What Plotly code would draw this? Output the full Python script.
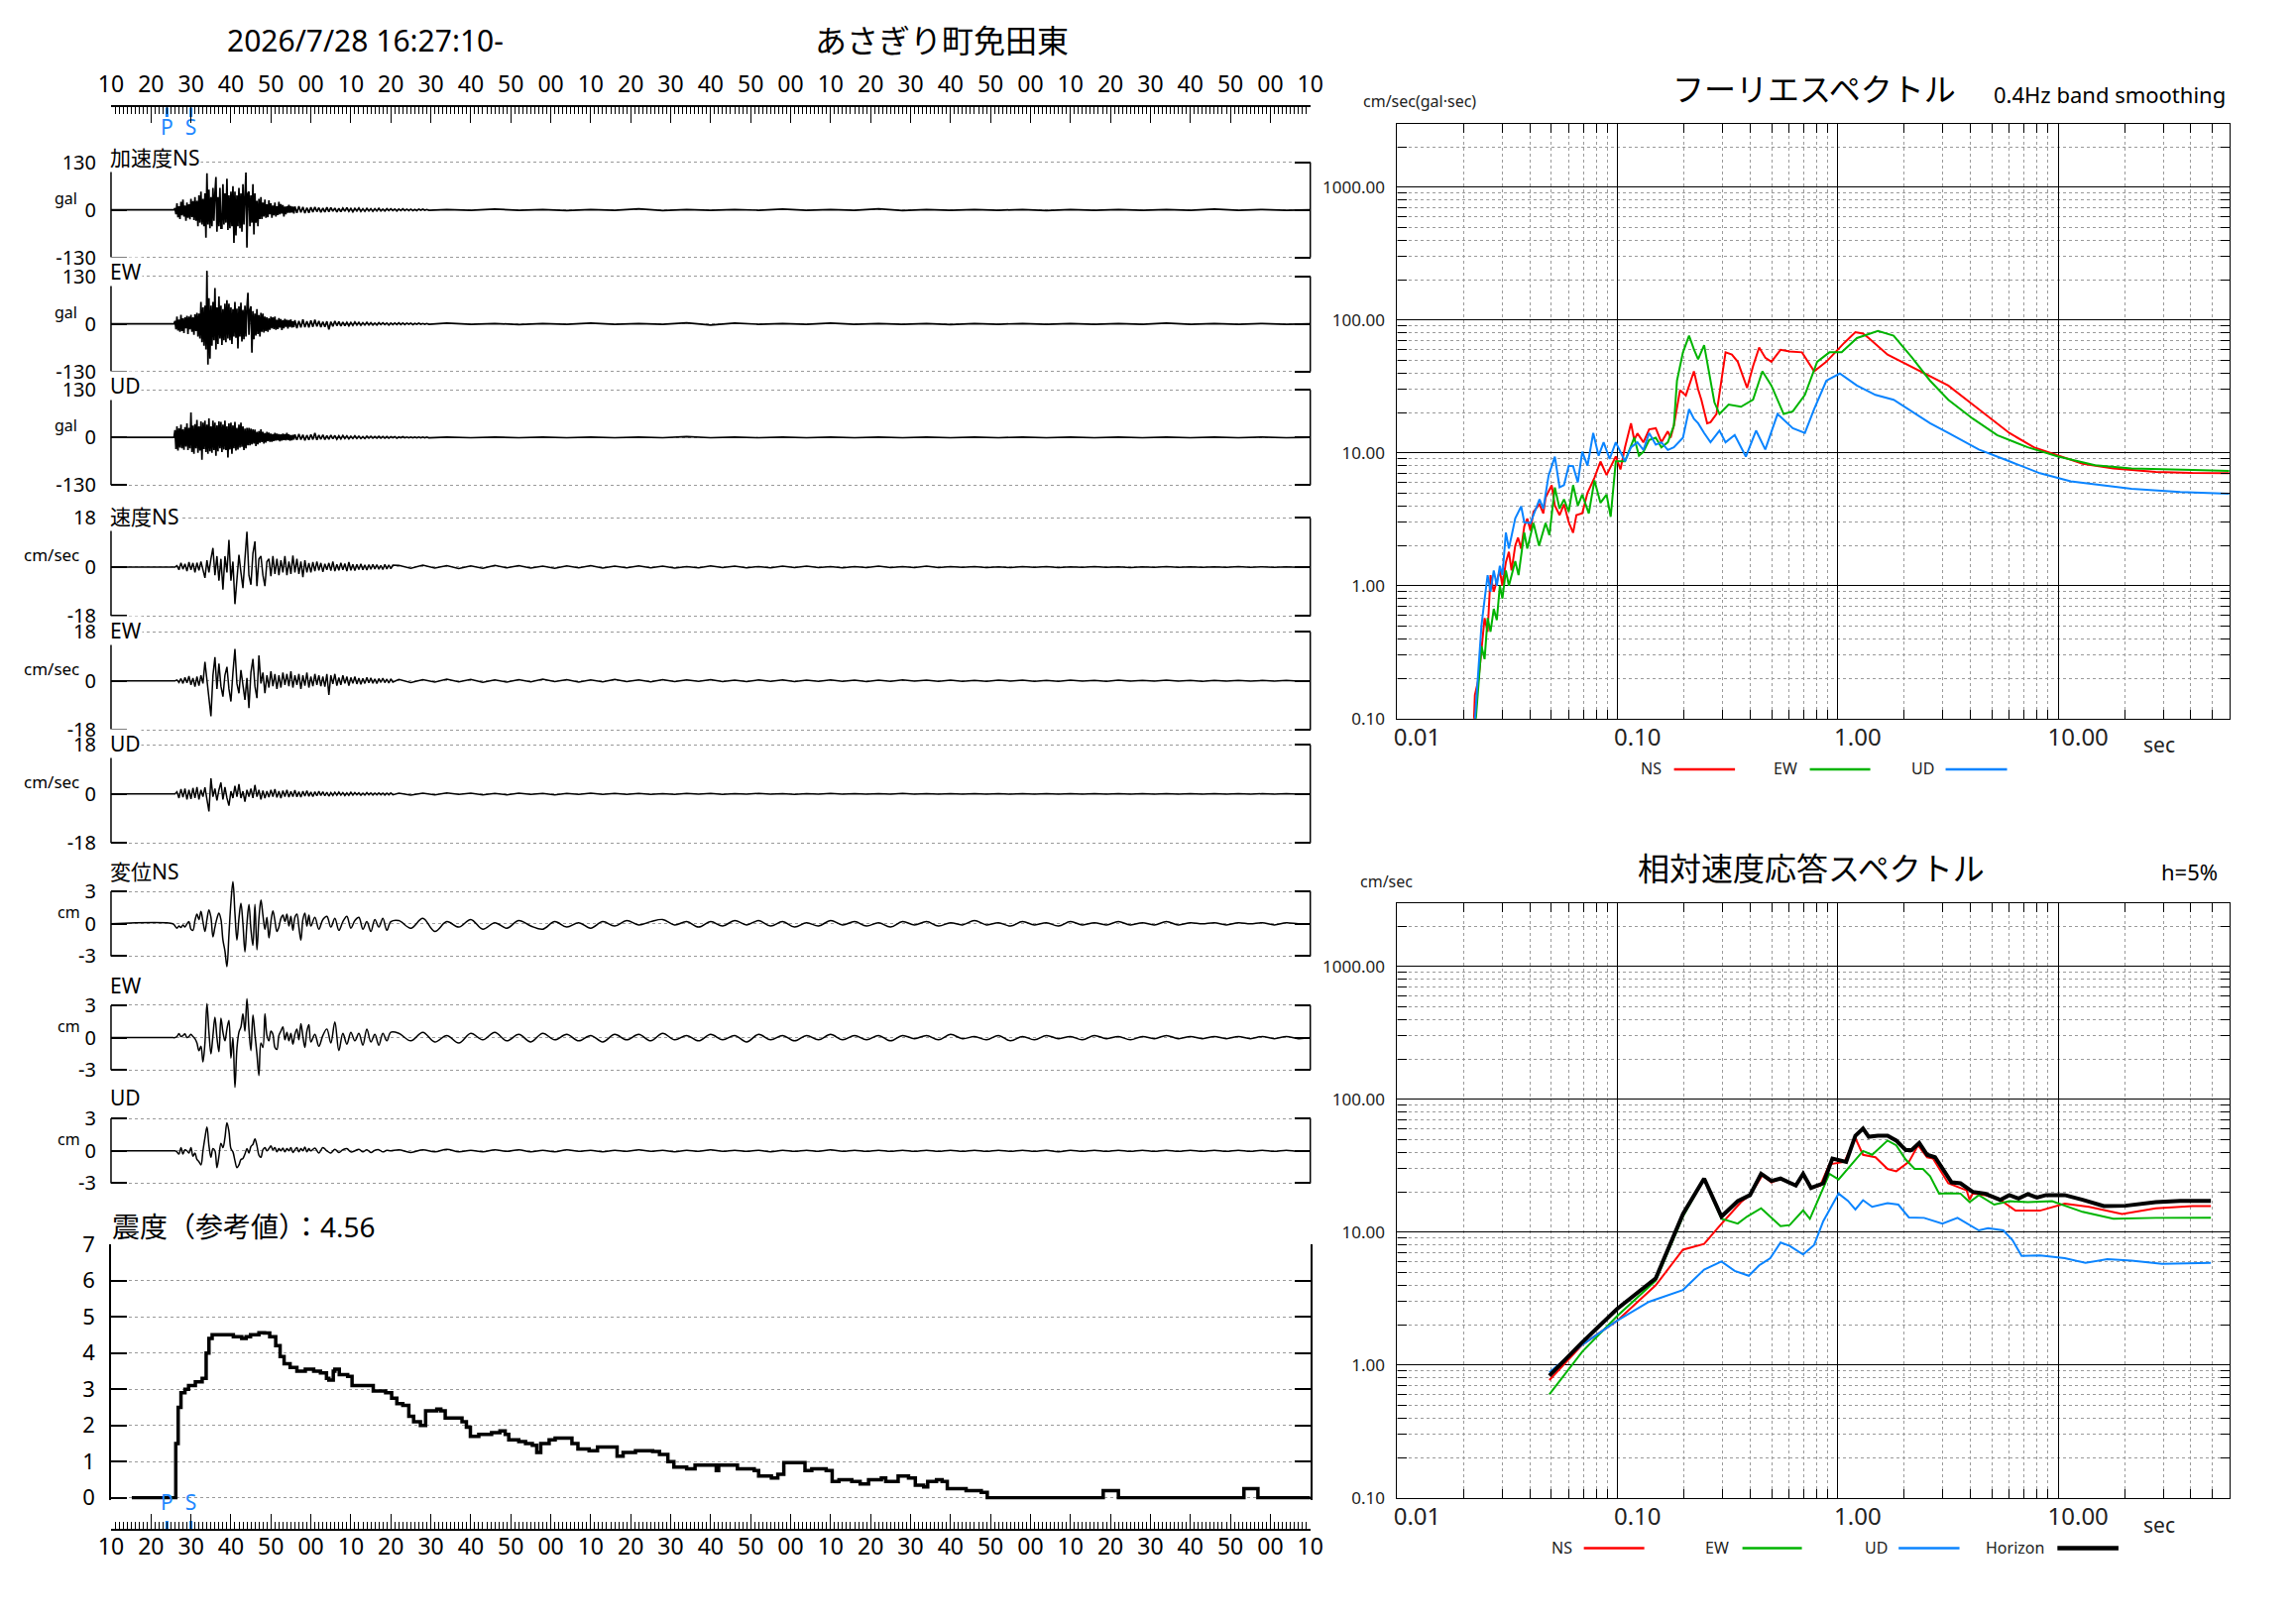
import numpy as np
import plotly.graph_objects as go

#======================================================================
# Data =================================================================
#======================================================================

TITLE_TIME = "2026/7/28 16:27:10-"
STATION = "あさぎり町免田東"

TIME_TICKS = list(range(0, 301, 10))
TIME_LABELS = ["10", "20", "30", "40", "50", "00", "10", "20", "30", "40", "50", "00",
               "10", "20", "30", "40", "50", "00", "10", "20", "30", "40", "50", "00",
               "10", "20", "30", "40", "50", "00", "10"]
PHASE_TIMES = [14.0, 20.0]
PHASE_LABELS = ["P", "S"]

# acceleration (gal): 0.25 s samples from 16 s, 0.5 s samples from 46 s, 6 s samples from 84 s
ACC_NS_A = [5, -12, 18, -20, 10, -25, 22, -15, 28, -18, 12, -30, 20, -22, 15, -26, 30, -20, 24, -28,
            35, -30, 25, -45, 40, -35, 50, -40, 30, -45, 45, -76, 100, -40,
            55, -50, 35, -45, 60, -30, 45, 90, -60, 35, -45, 60, -50,
            -50, 70, -40, 45, -35, 85, -55, 40, -50, 50, -45, 65, -90, 50, -70, 40, -45, 60, -50, 45,
            -60, 70, -40, 35, 102, -103, 45,
            50, -45, 40, -35, 70, -67, 45, -35, 25, -45, 30, -25, 35,
            -25, 20, -18, 28, -22, 15, -20, 26, -12, 18, -22, 12, -15, 20, -18, 10, -14, 22, -12, 16,
            -10, 13, -18, 9, -12, 10, -8, 14, -8, 10, -7, 9, -10]
ACC_NS_B = [9, -8, 10, -7, 8, -9, 6, -8, 7, -6, 8, -5, 6, -7, 5, -6, 7, -5, 6, -4, 5, -6, 4, -5,
            5, -4, 6, -4, 4, -5, 4, -3, 5, -4, 3, -4, 4, -3, 3, -4, 3, -3, 4, -3, 2, -3, 3, -2,
            3, -2, 2, -3, 2, -2, 3, -2, 2, -2, 2, -2, 1, -2, 2, -1, 2, -1, 1, -1]
ACC_NS_C = [1, -1, 2, -1, 1, -2, 1, -1, 3, -2, 1, -1, 1, -1, 2, -1, 1, -1, 3, -2, 1, -1, 1, -1,
            1, -2, 1, -1, 1, -1, 1, -1, 2, -1, 1, -1, 0]

ACC_EW_A = [8, -15, 20, -18, 12, -22, 25, -20, 15, -25, 18, -12, 22, -28, 20, -15, 25, -22, 18, -30,
            26, -20, 30, -35, 28, -40,
            60, -50, 45, -60, 50, -70, 145, -111,
            70, -95, 50, -60, 60, -45, 98, -70, 45, -55, 75, -40, 50,
            -58, 40, -45, 55, -50, 65, -40, 55, -45, 45, -55, 40, -35, 60, -38, 42, -67, 48, -35, 58,
            -48, 38, -42, 50, -35, 45, 85, -30, 38, 48, -79, 35, -42, 28, -32, 40, -28, 24, -35, 30,
            -22, 28, -24, 20,
            -20, 18, -22, 15, -16, 20, -12, 18, -14, 20, -16, 11, -14, 16, -10, 13, -17, 10, -12, 14,
            -8, 11, -13, 10, -8, 12, -10, 7, -9]
ACC_EW_B = [10, -12, 8, -10, 12, -9, 7, -10, 9, -8, 11, -7, 8, -9, 6, -8, 7, -15, 6, -7, 8, -5, 6, -6,
            5, -5, 4, -5, 4, -4, 5, -3, 4, -4, 3, -3, 4, -3, 3, -3, 2, -3, 3, -2, 3, -2, 2, -3,
            2, -2, 2, -2, 3, -2, 2, -2, 2, -1, 2, -2, 1, -1, 2, -1, 1, -1, 1, -1]
ACC_EW_C = [2, -1, 1, -2, 1, -1, 2, -1, 1, -1, 3, -3, 2, -1, 1, -1, 2, -1, 1, -1, 1, -2, 1, -1,
            1, -1, 1, -1, 1, -1, 2, -1, 1, -1, 1, -1, 0]

ACC_UD_A = [20, -32, 30, -36, 25, -28, 35, -30, 22, -34, 28, -25, 38, -35, 26, -30,
            68, -40, 32, -45, 36, -30, 48, -42, 30, -36, 44, -61, 40, -32, 46, -40,
            35, -45, 52, -38, 30, -42, 46, -35, 40, -50, 33, -38, 44, -30, 42, -40, 35, -33, 46, -35,
            30, -55, 38, -33, 40, -45, 33, -30, 42, -36, 26, -33, 35, -28, 40, -26, 30, -35, 24, -30,
            26, -22,
            26, -22, 24, -19, 22, -17, 21, -24, 15, -19, 17, -15, 22, -13, 15, -17, 12, -14, 15, -10,
            13, -12,
            10, -12, 9, -10, 12, -9, 10, -8, 9, -11, 8, -9, 10, -7, 9, -8, 12, -7, 8, -9, 6, -8, 7, -6]
ACC_UD_B = [8, -7, 9, -6, 7, -8, 6, -7, 8, -6, 12, -7, 6, -5, 7, -6, 5, -5, 6, -4, 5, -5, 4, -4,
            5, -3, 4, -4, 3, -3, 4, -3, 3, -3, 2, -3, 3, -2, 3, -2, 2, -2, 3, -2, 2, -2, 2, -2,
            2, -1, 2, -2, 1, -1, 2, -1, 1, -1, 1, -1, 1, -1, 1, -1, 1, -1, 1, -1]
ACC_UD_C = [1, -1, 1, -1, 1, -1, 1, -1, 1, -1, 2, -1, 1, -1, 1, -1, 1, -1, 1, -1, 1, -1, 1, -1,
            1, -1, 1, -1, 1, -1, 1, -1, 1, -1, 1, -1, 0]

# velocity (cm/sec): 0.5 s samples from 16.5 s, 3 s samples from 72 s
VEL_NS_A = [0.5, -1.0, 1.5, -0.8, 1.2, -1.5, 1.8, -1.0, 1.5, -2.0, 1.6, -1.2, 2.0,
            -1.5, -4.0, 2.5, -2.0, 3.0, 7.0, -3.0, 4.0, -5.0, 3.0, -8.3, 4.0, -2.0, 10.0, -5.0, 2.0,
            -13.6, -3.0, 4.5, -2.0, -7.7, 3.0, 13.0, -3.0, -6.5, 5.0, 9.4, -7.0, 3.0, 4.0, -3.0,
            -7.0, 2.0,
            3.0, -3.4, 4.0, -2.5, 3.0, -3.0, 2.5, -2.0, 4.0, -3.0, 2.0, -2.5, 4.2, -2.0, 3.0, -2.5,
            2.0, -3.7, 2.5, -2.0, 1.5, -2.0, 1.8,
            -1.5, 2.0, -1.2, 1.5, -1.8, 1.2, -1.0, 1.5, -1.3, 2.0, -1.5, 1.0, -1.2, 1.5, -1.0, 1.3,
            -1.5, 1.8, -1.2, 1.0, -1.3, 1.0, -0.9, 1.2, -1.0, 0.8, -1.1, 0.9, -0.8, 1.0, -0.7, 0.9,
            -0.8, 0.6, -0.9, 1.0, -0.7, 0.8, -0.6, 0.7]
VEL_NS_C = [0.6, -0.5, 0.7, -0.4, 0.5, -0.6, 0.4, -0.5, 0.6, -0.3, 0.5, -0.4, 0.3, -0.5, 0.4, -0.3,
            0.5, -0.4, 0.3, -0.3, 0.4, -0.3, 0.3, -0.4, 0.2, -0.3, 0.4, -0.2, 0.3, -0.3, 0.2, -0.3,
            0.3, -0.2, 0.3, -0.2, 0.2, -0.3, 0.2, -0.2, 0.3, -0.2, 0.2, -0.2, 0.3, -0.2, 0.2, -0.1,
            0.2, -0.2, 0.1, -0.2, 0.2, -0.1, 0.2, -0.2, 0.1, -0.1, 0.2, -0.1, 0.1, -0.2, 0.1, -0.1,
            0.2, -0.1, 0.1, -0.1, 0.1, -0.1, 0.2, -0.1, 0.1, -0.1, 0.1, -0.1, 0.0]

VEL_EW_A = [0.3, -0.6, 0.8, -1.0, 1.2, -0.8, 1.7, -1.5, 1.0, -2.2, 1.5, -1.8, 2.0,
            -1.0, 6.9, 0.5, -5.8, -13.0, 2.0, 8.7, -3.0, 6.3, -2.0, -5.8, 2.0, 5.1, -3.0, -7.6, 3.0,
            11.7, -1.0, -4.6, 3.9, -2.0, -7.0, 1.0, -10.0, 3.0, 8.0, -2.0, -6.4, 9.3, -1.0, 3.0,
            -4.6, 2.0,
            -2.5, 3.5, -2.0, 2.5, -3.0, 2.0, -2.5, 3.0, -1.5, 2.5, -2.0, 3.5, -2.5, 2.0, -1.5, 2.5,
            -3.0, 2.0, -1.8, 3.0, -2.5, 1.5, -2.0,
            2.5, -1.5, 2.0, -2.0, 1.5, -2.2, 2.5, -5.2, 2.0, -1.2, 2.5, -1.8, 1.2, -1.5, 2.0, -1.0,
            1.5, -1.8, 1.2, -1.0, 1.5, -1.2, 1.0, -1.3, 0.9, -1.0, 1.2, -0.8, 1.0, -0.9, 0.7, -1.0,
            0.8, -0.6, 0.9, -0.7, 0.6, -0.8, 0.7, -0.5]
VEL_EW_C = [0.5, -0.7, 0.4, -0.5, 0.6, -0.4, 0.5, -0.6, 0.3, -0.5, 0.4, -0.4, 0.6, -0.3, 0.4, -0.5,
            0.3, -0.4, 0.5, -0.3, 0.3, -0.4, 0.4, -0.3, 0.3, -0.2, 0.4, -0.3, 0.2, -0.3, 0.3, -0.2,
            0.3, -0.3, 0.2, -0.2, 0.3, -0.2, 0.2, -0.3, 0.2, -0.2, 0.3, -0.1, 0.2, -0.2, 0.2, -0.2,
            0.1, -0.2, 0.2, -0.1, 0.2, -0.2, 0.1, -0.2, 0.2, -0.1, 0.1, -0.2, 0.2, -0.1, 0.1, -0.1,
            0.2, -0.1, 0.1, -0.2, 0.1, -0.1, 0.1, -0.1, 0.1, -0.1, 0.1, -0.1, 0.0]

VEL_UD_A = [0.8, -1.5, 1.8, -1.2, 2.0, -2.0, 1.5, -1.8, 2.2, -1.5, 2.5, -2.0, 1.5,
            -1.0, 2.4, -1.5, -6.4, 5.7, -1.0, 2.0, -2.4, 1.5, 4.2, -2.0, 2.5, -1.5, -4.3, 1.0, -1.5,
            3.0, -1.0, 3.6, -1.5, 1.0, -2.8, 1.5, -1.0, 2.0, -1.5, 3.3, -1.0, 1.5, -2.0, 1.2, -1.5,
            1.0,
            -1.2, 1.5, -1.0, 1.8, -1.3, 1.0, -1.5, 1.2, -1.0, 1.5, -1.2, 0.9, -1.0, 1.4, -1.1, 0.8,
            -1.2, 1.0, -0.8, 1.2, -0.9, 0.7, -1.0,
            0.8, -0.7, 1.0, -0.6, 0.8, -0.7, 0.6, -0.8, 0.5, -0.6, 0.6, -0.5, 0.7, -0.4, 0.5, -0.6,
            0.4, -0.5, 0.6, -0.4, 0.5, -0.3, 0.4, -0.5, 0.3, -0.4, 0.5, -0.3, 0.4, -0.4, 0.3, -0.3,
            0.4, -0.3, 0.3, -0.4, 0.3, -0.3, 0.4, -0.3]
VEL_UD_C = [0.3, -0.4, 0.3, -0.3, 0.4, -0.2, 0.3, -0.3, 0.2, -0.3, 0.3, -0.2, 0.2, -0.3, 0.2, -0.2,
            0.3, -0.2, 0.2, -0.2, 0.2, -0.2, 0.1, -0.2, 0.2, -0.1, 0.2, -0.2, 0.1, -0.1, 0.2, -0.1,
            0.1, -0.2, 0.1, -0.1, 0.2, -0.1, 0.1, -0.1, 0.1, -0.1, 0.2, -0.1, 0.1, -0.1, 0.1, -0.1,
            0.1, -0.1, 0.1, -0.1, 0.1, -0.1, 0.1, -0.1, 0.1, -0.1, 0.1, -0.1, 0.1, -0.1, 0.1, -0.1,
            0.1, -0.1, 0.1, -0.1, 0.1, -0.1, 0.1, -0.1, 0.1, -0.1, 0.1, -0.1, 0.0]

# displacement (cm): 0.5 s samples from 16 s, 1 s samples from 51 s, 3 s samples from 72 s
DIS_NS_A = [-0.2, -0.4, -0.2, -0.35, -0.1, -0.3, 0.0, 0.2, -0.5, -0.6, 0.3, 0.9,
            0.4, 1.15, 0.2, -0.7, 0.4, 1.3, 0.6, -1.2, -0.3, 0.5, 1.0, 0.4,
            -1.5, -2.5, -3.96, -1.0, 2.0, 3.9, 1.0, -1.5, 0.5, 1.9, 0.0, -2.6,
            0.0, 1.8, -0.5, -2.0, 1.8, -2.4, 0.5, 2.2, 0.8, -0.5, 0.6, -1.3,
            0.2, 1.2, 0.3, -0.7, -0.3, 0.5, 0.8, 0.2, 0.9, -0.2, 0.7, -0.6,
            0.6, 0.9, -0.3, -1.5, 0.4, 1.0, -0.2, 0.8, -0.2]
DIS_NS_B = [0.6, -0.5, 0.4, 0.7, -0.3, 0.5, -0.6, 0.2, 0.7, -0.4, 0.3, 0.6, -0.5, 0.2, -0.7, 0.4,
            -0.3, 0.5, -0.6, 0.2]
DIS_NS_C = [0.3, -0.4, 0.5, -0.7, 0.2, -0.3, 0.4, -0.5, 0.1, -0.4, 0.3, -0.2, -0.5, 0.2, -0.3, 0.1,
            -0.4, 0.2, -0.2, 0.3, -0.1, 0.2, 0.4, -0.1, 0.2, -0.3, 0.2, -0.2, 0.3, -0.1, 0.3, -0.2,
            0.2, -0.3, 0.1, -0.2, 0.3, -0.1, 0.2, -0.2, 0.1, -0.3, 0.2, -0.1, 0.2, -0.2, 0.1, -0.1,
            0.3, -0.1, 0.1, -0.2, 0.2, -0.1, 0.1, -0.2, 0.2, -0.1, 0.1, -0.1, 0.2, -0.1, 0.1, -0.1,
            0.2, -0.1, 0.1, 0.0, 0.1, -0.1, 0.1, 0.0, 0.1, -0.1, 0.1, 0.0, 0.0]

DIS_EW_A = [0.0, 0.1, 0.37, 0.1, 0.2, 0.35, 0.0, 0.1, 0.3, 0.1, -0.1, -0.5,
            -1.2, -0.8, -2.25, -0.5, 3.15, 0.5, -1.5, 0.2, 1.9, 0.0, -1.3, 1.8,
            0.5, -0.3, 0.8, 1.6, -1.9, 0.0, -4.6, -1.0, 0.5, 1.0, 2.2, 0.6,
            3.6, 0.8, -1.2, 2.1, 0.3, -1.5, -3.5, -0.5, -0.9, 2.2, 0.2, -0.3,
            0.6, 0.3, -0.9, -1.1, 0.2, 0.6, 1.0, -0.2, 0.5, -0.3, 0.4, -0.6,
            0.3, 0.8, -0.2, 1.3, 0.1, -0.9, 0.6, 1.2, -0.4]
DIS_EW_B = [0.3, -0.8, 0.2, 0.8, -0.5, 1.45, -1.2, 0.4, -0.6, 0.5, -0.3, 0.4, -0.7, 0.8, -0.4, 0.3,
            -0.7, 0.4, -0.3, 0.5]
DIS_EW_C = [0.4, -0.3, 0.5, -0.4, 0.2, -0.5, 0.4, -0.2, 0.5, -0.3, 0.3, -0.4, 0.4, -0.2, 0.3, -0.3,
            0.2, -0.4, 0.3, -0.2, 0.3, -0.3, 0.4, -0.2, 0.2, -0.3, 0.3, -0.2, 0.2, -0.4, 0.3, -0.2,
            0.2, -0.3, 0.2, -0.2, 0.3, -0.2, 0.2, -0.2, 0.2, -0.3, 0.2, -0.1, 0.2, -0.2, 0.3, -0.1,
            0.1, -0.2, 0.2, -0.3, 0.1, -0.2, 0.2, -0.1, 0.1, -0.2, 0.2, -0.1, 0.1, -0.2, 0.1, -0.1,
            0.2, -0.1, 0.1, -0.1, 0.1, -0.1, 0.1, -0.1, 0.1, -0.1, 0.1, -0.1, 0.0]

DIS_UD_A = [0.0, -0.1, -0.3, 0.3, -0.3, 0.1, 0.0, -0.2, 0.3, -0.5, -0.2, -0.8,
            -1.0, -1.3, 0.0, 1.2, 2.2, 0.5, -0.6, 0.2, 0.0, -1.55, -0.5, 0.7,
            0.3, 1.2, 2.6, 1.8, 0.2, -0.1, -0.9, -1.55, -1.3, -0.8, -0.7, -0.3,
            0.2, -0.2, 0.4, 0.6, 1.1, 0.5, -0.4, -0.6, 0.1, 0.3, 0.0, 0.2,
            0.46, 0.1, 0.3, -0.1, 0.2, 0.0, 0.25, -0.1, 0.2, 0.0, 0.3, -0.15,
            0.1, 0.3, -0.1, 0.2, 0.0, 0.35, -0.1, 0.2, 0.0]
DIS_UD_B = [0.25, -0.2, 0.3, 0.0, -0.2, 0.15, -0.15, 0.1, 0.2, -0.1, 0.0, 0.15, -0.1, 0.1, -0.15,
            0.05, 0.1, -0.1, 0.05, 0.0]
DIS_UD_C = [0.1, -0.15, 0.1, -0.1, 0.15, -0.1, 0.05, -0.1, 0.1, -0.05, 0.1, -0.1, 0.05, -0.1, 0.1,
            -0.05, 0.05, -0.1, 0.05, -0.05, 0.1, -0.05, 0.05, -0.1, 0.05, -0.05, 0.1, -0.05, 0.05,
            -0.05, 0.05, -0.1, 0.05, -0.05, 0.05, -0.05, 0.1, -0.05, 0.05, -0.05, 0.05, -0.05, 0.05,
            -0.05, 0.05, -0.05, 0.05, -0.05, 0.05, -0.05, 0.05, -0.05, 0.05, -0.05, 0.05, -0.1, 0.05,
            -0.05, 0.05, -0.05, 0.05, -0.05, 0.05, -0.05, 0.05, -0.05, 0.05, -0.05, 0.05, -0.05,
            0.05, -0.05, 0.05, -0.05, 0.05, -0.05, 0.0]

# seismic intensity (reference value), (time s, value)
INT_MAX = 4.56
INTENSITY = [(5.2, 0), (16.2, 1.5), (16.8, 2.5), (17.5, 2.9), (18.5, 3.0), (19.4, 3.1), (21.1, 3.2),
             (22.8, 3.3), (23.8, 4.0), (24.5, 4.4), (25.3, 4.5), (30.6, 4.45), (32.7, 4.4),
             (33.8, 4.45), (34.9, 4.5), (37.0, 4.56), (38.4, 4.55), (39.7, 4.45), (41.2, 4.2),
             (42.3, 3.9), (43.3, 3.7), (44.8, 3.6), (46.5, 3.5), (48.6, 3.55), (50.7, 3.5),
             (52.4, 3.45), (53.9, 3.3), (54.5, 3.25), (55.6, 3.5), (56.0, 3.55), (57.1, 3.4),
             (59.2, 3.35), (60.3, 3.1), (65.6, 2.95), (68.7, 2.9), (70.2, 2.75), (71.5, 2.6),
             (73.0, 2.55), (74.5, 2.25), (75.7, 2.1), (77.4, 2.0), (78.7, 2.4), (81.5, 2.45),
             (82.5, 2.4), (83.6, 2.2), (87.8, 2.1), (88.9, 1.95), (89.9, 1.7), (92.0, 1.75),
             (95.2, 1.8), (97.3, 1.85), (98.6, 1.75), (99.5, 1.6), (102.0, 1.55), (103.7, 1.5),
             (105.4, 1.45), (106.5, 1.25), (107.5, 1.5), (109.6, 1.6), (111.1, 1.65), (115.3, 1.5),
             (116.8, 1.35), (119.6, 1.3), (121.7, 1.4), (126.6, 1.15), (128.1, 1.25), (131.2, 1.3),
             (135.5, 1.28), (137.2, 1.2), (139.3, 1.0), (140.8, 0.85), (144.0, 0.8), (146.1, 0.9),
             (151.4, 0.75), (152.0, 0.9), (156.7, 0.8), (160.9, 0.75), (162.0, 0.6), (165.2, 0.55),
             (166.8, 0.65), (168.3, 0.97), (173.6, 0.75), (175.3, 0.8), (178.9, 0.75), (180.4, 0.45),
             (182.1, 0.5), (185.3, 0.45), (187.4, 0.38), (189.5, 0.5), (192.7, 0.55), (193.8, 0.45),
             (196.9, 0.6), (199.5, 0.55), (201.2, 0.35), (203.3, 0.3), (204.3, 0.45), (206.5, 0.5),
             (207.9, 0.45), (209.2, 0.25), (213.9, 0.2), (217.7, 0.15), (219.2, 0.0), (248.2, 0.2),
             (252.0, 0.0), (283.4, 0.25), (286.9, 0.0), (300.0, 0.0)]

# Fourier spectra, (period s, cm/sec)
FS_NS = [(0.0222, 0.08), (0.0225, 0.15), (0.0234, 0.20), (0.0241, 0.35), (0.0249, 0.57), (0.0257, 0.45),
         (0.0265, 1.2), (0.0274, 0.9), (0.0292, 1.3), (0.0300, 1.0), (0.0311, 1.5), (0.0321, 1.8),
         (0.0330, 1.3), (0.0343, 2.0), (0.0353, 2.3), (0.0365, 1.9), (0.0377, 2.8), (0.0389, 3.2),
         (0.0402, 2.6), (0.0415, 3.6), (0.0442, 4.1), (0.0460, 3.5), (0.0471, 4.6), (0.0502, 5.7),
         (0.0519, 4.0), (0.0545, 3.4), (0.0571, 4.1), (0.0600, 3.0), (0.0628, 2.5), (0.0650, 3.4),
         (0.0691, 3.5), (0.0730, 5.0), (0.0785, 6.5), (0.0836, 8.6), (0.0891, 6.8), (0.0981, 9.4),
         (0.1030, 7.5), (0.108, 11.0), (0.115, 16.7), (0.119, 12.5), (0.123, 14.0), (0.131, 12.0),
         (0.139, 15.0), (0.149, 15.3), (0.158, 12.0), (0.169, 14.5), (0.174, 13.0), (0.180, 16.0),
         (0.192, 29.6), (0.204, 27.0), (0.222, 41.1), (0.232, 30.0), (0.240, 25.1), (0.255, 16.7),
         (0.264, 17.0), (0.281, 19.6), (0.296, 35.0), (0.309, 57.1), (0.330, 55.0), (0.351, 48.5),
         (0.387, 30.8), (0.412, 45.0), (0.439, 62.1), (0.468, 52.0), (0.499, 48.5), (0.549, 59.6),
         (0.604, 58.0), (0.687, 57.1), (0.780, 41.1), (0.886, 48.5), (1.07, 67.4), (1.20, 80.8),
         (1.30, 79.0), (1.38, 73.1), (1.68, 54.8), (2.03, 46.6), (2.62, 37.9), (3.17, 32.1),
         (4.09, 23.1), (4.96, 18.1), (6.00, 14.1), (7.75, 11.0), (10.0, 9.53), (12.9, 8.28),
         (17.8, 7.63), (27.7, 7.19), (40.6, 7.05), (59.7, 7.02)]
FS_EW = [(0.0225, 0.08), (0.0234, 0.2), (0.0241, 0.35), (0.0249, 0.28), (0.0257, 0.57), (0.0265, 0.45),
         (0.0274, 0.67), (0.0283, 0.55), (0.0292, 1.0), (0.0300, 0.8), (0.0311, 1.3), (0.0321, 1.0),
         (0.0343, 1.53), (0.0355, 1.2), (0.0377, 2.51), (0.0389, 1.9), (0.0415, 2.96), (0.0440, 2.0),
         (0.0471, 2.96), (0.0490, 2.4), (0.0519, 5.48), (0.0545, 3.8), (0.0571, 4.47), (0.0600, 3.6),
         (0.0628, 5.71), (0.0660, 4.0), (0.0691, 4.85), (0.0740, 3.5), (0.0785, 6.21), (0.0836, 4.2),
         (0.0891, 4.85), (0.0930, 3.3), (0.0981, 8.63), (0.108, 8.63), (0.113, 10.5), (0.119, 13.0),
         (0.125, 9.5), (0.131, 10.2), (0.139, 12.5), (0.149, 13.0), (0.158, 11.0), (0.169, 12.0),
         (0.180, 16.0), (0.186, 34.9), (0.198, 57.1), (0.211, 76.2), (0.222, 60.0), (0.232, 50.6),
         (0.247, 64.7), (0.264, 34.9), (0.275, 24.0), (0.290, 19.6), (0.319, 23.1), (0.363, 22.2),
         (0.412, 25.1), (0.454, 41.1), (0.499, 32.1), (0.567, 19.6), (0.624, 20.5), (0.708, 27.3),
         (0.805, 48.5), (0.915, 57.1), (1.04, 57.1), (1.22, 73.1), (1.52, 82.8), (1.79, 76.2),
         (2.16, 52.6), (2.62, 34.9), (3.17, 25.1), (4.09, 18.1), (5.28, 13.6), (7.27, 11.0),
         (10.0, 9.36), (14.7, 8.07), (21.5, 7.63), (40.6, 7.43), (59.7, 7.31)]
FS_UD = [(0.0222, 0.07), (0.0234, 0.27), (0.0241, 0.5), (0.0246, 0.67), (0.0257, 1.2), (0.0265, 0.9),
         (0.0274, 1.3), (0.0283, 1.0), (0.0292, 1.41), (0.0300, 1.2), (0.0311, 2.51), (0.0321, 1.9),
         (0.0343, 3.21), (0.0365, 3.95), (0.0377, 3.0), (0.0402, 2.96), (0.0420, 3.6), (0.0442, 4.47),
         (0.0460, 3.8), (0.0486, 6.74), (0.0519, 9.36), (0.0545, 5.5), (0.0571, 5.71), (0.0600, 8.0),
         (0.0628, 7.94), (0.0660, 6.0), (0.0691, 10.2), (0.0730, 8.0), (0.0775, 14.1), (0.0820, 9.5),
         (0.0864, 12.0), (0.0920, 9.0), (0.0981, 12.0), (0.108, 8.63), (0.115, 11.0), (0.123, 12.0),
         (0.131, 10.5), (0.139, 14.1), (0.149, 11.5), (0.158, 12.0), (0.169, 10.5), (0.180, 11.0),
         (0.198, 13.0), (0.211, 21.3), (0.222, 18.0), (0.232, 16.7), (0.247, 14.1), (0.264, 12.0),
         (0.290, 14.7), (0.309, 12.0), (0.340, 13.6), (0.382, 9.36), (0.425, 14.7), (0.468, 10.6),
         (0.532, 19.6), (0.624, 15.3), (0.708, 14.1), (0.780, 21.3), (0.886, 34.9), (1.02, 39.5),
         (1.22, 32.1), (1.48, 27.3), (1.79, 25.1), (2.16, 20.5), (2.62, 16.7), (3.17, 14.1),
         (4.36, 10.6), (6.00, 8.63), (8.26, 7.02), (11.4, 6.11), (15.6, 5.71), (21.5, 5.36),
         (35.8, 5.06), (59.7, 4.93)]

# relative velocity response spectra h=5%, (period s, cm/sec)
RS_NS = [(0.049, 0.77), (0.0691, 1.42), (0.0994, 2.15), (0.149, 3.98), (0.198, 7.38), (0.247, 8.14),
         (0.290, 11.1), (0.363, 16.8), (0.399, 19.0), (0.454, 26.8), (0.499, 23.7), (0.549, 25.3),
         (0.644, 22.4), (0.695, 26.8), (0.755, 21.5), (0.831, 22.4), (0.915, 32.4), (1.07, 33.8),
         (1.20, 50.9), (1.30, 38.2), (1.48, 36.6), (1.68, 29.9), (1.84, 28.7), (2.10, 33.8),
         (2.31, 45.0), (2.54, 36.6), (2.70, 35.8), (3.17, 23.3), (3.84, 20.6), (3.96, 17.5),
         (4.09, 19.5), (4.65, 19.0), (5.45, 17.5), (6.40, 14.5), (8.26, 14.5), (10.7, 16.4),
         (13.8, 15.5), (19.5, 13.7), (27.7, 15.1), (40.6, 15.7), (49.3, 15.7)]
RS_EW = [(0.049, 0.60), (0.0691, 1.26), (0.0994, 2.33), (0.149, 4.32), (0.198, 13.1), (0.247, 25.3),
         (0.296, 12.6), (0.351, 11.6), (0.387, 13.1), (0.448, 15.1), (0.549, 11.1), (0.604, 11.3),
         (0.695, 14.6), (0.746, 12.6), (0.831, 19.0), (0.915, 27.5), (1.007, 24.9), (1.16, 32.4),
         (1.30, 40.8), (1.43, 38.2), (1.68, 48.9), (1.84, 45.0), (2.03, 35.2), (2.23, 29.9),
         (2.43, 29.9), (2.62, 26.4), (2.88, 19.5), (3.17, 19.6), (3.60, 19.5), (3.96, 16.8),
         (4.36, 19.0), (5.12, 16.1), (6.00, 17.1), (7.27, 16.8), (9.38, 17.1), (12.9, 14.2),
         (17.8, 12.6), (27.7, 12.8), (49.3, 12.8)]
RS_UD = [(0.049, 0.88), (0.0691, 1.42), (0.0994, 2.15), (0.139, 2.99), (0.198, 3.67), (0.247, 5.22),
         (0.296, 6.0), (0.340, 5.1), (0.394, 4.69), (0.439, 5.62), (0.493, 6.36), (0.549, 8.35),
         (0.604, 7.87), (0.695, 6.79), (0.780, 8.01), (0.858, 12.1), (1.007, 19.5), (1.11, 17.2),
         (1.20, 14.8), (1.30, 17.4), (1.43, 15.5), (1.68, 16.5), (1.88, 16.1), (2.10, 12.9),
         (2.46, 12.8), (2.98, 11.6), (3.49, 12.8), (4.36, 10.3), (4.80, 10.7), (5.63, 10.3),
         (6.20, 8.7), (6.82, 6.63), (8.26, 6.67), (10.7, 6.36), (13.3, 5.86), (16.7, 6.25),
         (21.5, 6.1), (29.6, 5.77), (49.3, 5.86)]
RS_HOR = [(0.049, 0.83), (0.0691, 1.48), (0.0994, 2.64), (0.149, 4.5), (0.198, 13.7), (0.247, 25.3),
          (0.296, 13.1), (0.351, 17.1), (0.399, 19.0), (0.448, 27.5), (0.499, 24.3), (0.549, 25.3),
          (0.644, 22.4), (0.695, 27.5), (0.755, 21.5), (0.858, 23.3), (0.944, 35.8), (1.09, 33.8),
          (1.20, 53.1), (1.30, 60.1), (1.38, 52.2), (1.52, 53.1), (1.68, 53.1), (1.84, 48.9),
          (2.03, 41.5), (2.16, 41.5), (2.34, 46.9), (2.54, 38.2), (2.76, 36.6), (3.28, 23.7),
          (3.60, 23.3), (4.09, 20.1), (4.65, 19.5), (5.45, 17.5), (6.00, 19.0), (6.61, 17.9),
          (7.27, 19.3), (8.00, 18.2), (8.81, 19.0), (10.7, 19.0), (12.9, 17.5), (16.1, 15.7),
          (20.2, 15.8), (27.7, 16.8), (35.8, 17.2), (49.3, 17.2)]

SPEC_X_TICKS = [0.01, 0.1, 1, 10]
SPEC_X_LABELS = ["0.01", "0.10", "1.00", "10.00"]
SPEC_Y_TICKS = [0.1, 1, 10, 100, 1000]
SPEC_Y_LABELS = ["0.10", "1.00", "10.00", "100.00", "1000.00"]

#======================================================================
# Page geometry (pixels of the 2316 x 1637 page) =======================
#======================================================================

W, H = 2316, 1637
# the photographed page comes out slightly shrunk and shifted; positions below are
# target pixels, corrected with this measured calibration
AX, BX = 0.989, 13.0
AY, BY = 0.983, 16.8

FONT = "Noto Sans, Noto Sans CJK JP, sans-serif"
RED, GREEN, BLUE = "#ff0000", "#00b400", "#0a84ff"
PS_BLUE = "#1e88ff"
GRID = "#9a9a9a"
XL, XR = 112, 1322          # time axis of the left panels
SXL, SXR = 1409.8, 2249.6   # spectra frames
K = 1.6                     # room above / below the +-M frame for overshooting peaks


def fx(p):
    return (p - BX) / AX / W


def fy(p):
    return 1.0 - (p - BY) / AY / H


def eixo(n):
    s = "" if n == 1 else str(n)
    return "xaxis" + s, "yaxis" + s, "x" + s, "y" + s


def serie(partes):
    t0, dt, _ = partes[0]
    tt, vv = [0.0, t0 - dt], [0.0, 0.0]
    for t0, dt, vals in partes:
        tt += list(t0 + dt * np.arange(len(vals)))
        vv += list(vals)
    return tt, vv


paineis = [
    ("加速度NS", [(16, 0.25, ACC_NS_A), (46, 0.5, ACC_NS_B), (84, 6, ACC_NS_C)], 130, 212.5, 48, 160, "gal", 16, 80, "linear", 1.7),
    ("EW", [(16, 0.25, ACC_EW_A), (46, 0.5, ACC_EW_B), (84, 6, ACC_EW_C)], 130, 327.5, 48, 275, "gal", 16, 80, "linear", 1.7),
    ("UD", [(16, 0.25, ACC_UD_A), (46, 0.5, ACC_UD_B), (84, 6, ACC_UD_C)], 130, 442.0, 48, 390, "gal", 16, 80, "linear", 1.7),
    ("速度NS", [(16.5, 0.5, VEL_NS_A), (72, 3, VEL_NS_C)], 18, 572.8, 49.5, 521.7, "cm/sec", 17, 82, "linear", 1.5),
    ("EW", [(16.5, 0.5, VEL_EW_A), (72, 3, VEL_EW_C)], 18, 687.5, 49.5, 636.7, "cm/sec", 17, 82, "linear", 1.5),
    ("UD", [(16.5, 0.5, VEL_UD_A), (72, 3, VEL_UD_C)], 18, 801.7, 49.5, 750.7, "cm/sec", 17, 82, "linear", 1.5),
    ("変位NS", [(16, 0.5, DIS_NS_A), (51, 1, DIS_NS_B), (72, 3, DIS_NS_C)], 3, 932.7, 32.7, 880, "cm", 16, 83, "spline", 1.5),
    ("EW", [(16, 0.5, DIS_EW_A), (51, 1, DIS_EW_B), (72, 3, DIS_EW_C)], 3, 1047.5, 32.7, 995, "cm", 16, 83, "spline", 1.5),
    ("UD", [(16, 0.5, DIS_UD_A), (51, 1, DIS_UD_B), (72, 3, DIS_UD_C)], 3, 1161.7, 32.7, 1108, "cm", 16, 83, "spline", 1.5),
]

fig = go.Figure()
lay = {}
shapes = []
annos = []


def anno(x, y, text, size, xanchor="center", bg=None, color="black"):
    d = dict(x=fx(x), y=fy(y), xref="paper", yref="paper", text=text, showarrow=False,
             xanchor=xanchor, yanchor="middle", font=dict(size=size, color=color))
    if bg:
        d["bgcolor"] = bg
        d["borderpad"] = 0
    annos.append(d)


#----------------------------------------------------------------------
# waveform panels
#----------------------------------------------------------------------
for n, (nome, partes, M, c, h, ly, un, ufs, ux, forma, lw) in enumerate(paineis, start=1):
    tt, vv = serie(partes)
    xa, ya, xs, ys = eixo(n)
    fig.add_trace(go.Scatter(x=tt, y=vv, xaxis=xs, yaxis=ys, mode="lines",
                             line=dict(color="black", width=lw, shape=forma),
                             showlegend=False, hoverinfo="skip"))
    lay[xa] = dict(domain=[fx(XL), fx(XR)], range=[0, 300], anchor=ys, visible=False)
    lay[ya] = dict(domain=[fy(c + h * K), fy(c - h * K)], range=[-M * K, M * K], anchor=xs,
                   tickmode="array", tickvals=[-M, 0, M], ticktext=[f"-{M}", "0", f"{M}"],
                   ticks="inside", ticklen=16, tickwidth=1.5, tickcolor="black",
                   showline=True, linecolor="rgba(0,0,0,0)", mirror="ticks",
                   showgrid=True, gridcolor=GRID, gridwidth=1, griddash="dot",
                   zeroline=False, tickfont=dict(size=20), ticklabelstandoff=10)
    for xd in (0, 1):
        shapes.append(dict(type="line", xref=f"{xs} domain", yref=ys, x0=xd, x1=xd, y0=-M, y1=M,
                           line=dict(color="black", width=1.5)))
    anno(110, ly, nome, 21, xanchor="left", bg="white")
    anno(ux, c - 12, un, ufs, xanchor="right")

#----------------------------------------------------------------------
# seismic intensity
#----------------------------------------------------------------------
it, iv = zip(*INTENSITY)
fig.add_trace(go.Scatter(x=it, y=iv, xaxis="x10", yaxis="y10", mode="lines",
                         line=dict(color="black", width=3.5, shape="hv"),
                         showlegend=False, hoverinfo="skip"))
lay["xaxis10"] = dict(domain=[fx(XL), fx(XR)], range=[0, 300], anchor="y10", visible=False)
lay["yaxis10"] = dict(domain=[fy(1513.5), fy(1256)], range=[-0.05, 7], anchor="x10",
                      tickmode="array", tickvals=list(range(8)), ticks="inside", ticklen=16,
                      tickwidth=1.5, tickcolor="black", showline=True, linecolor="black",
                      linewidth=1.5, mirror="ticks", showgrid=True, gridcolor=GRID,
                      griddash="dot", zeroline=False, tickfont=dict(size=22),
                      ticklabelstandoff=10)
anno(111, 1238, f"震度（参考値）：{INT_MAX:.2f}", 28, xanchor="left")

#----------------------------------------------------------------------
# time rulers, top and bottom, with P / S marks
#----------------------------------------------------------------------
ruler = dict(domain=[fx(XL), fx(XR)], range=[0, 300], showline=True, linecolor="black",
             linewidth=1.5, ticks="inside", tickwidth=1.2, tickcolor="black", tickmode="array",
             tickvals=TIME_TICKS, ticktext=TIME_LABELS, showgrid=False, zeroline=False,
             tickfont=dict(size=23),
             minor=dict(tickmode="linear", tick0=0, dtick=1, ticks="inside", ticklen=7,
                        tickwidth=1, tickcolor="black", showgrid=False))
lay["xaxis13"] = dict(ruler, anchor="y13", side="top", ticklen=16, ticklabelstandoff=4)
lay["yaxis13"] = dict(domain=[fy(140), fy(109)], range=[0, 1], anchor="x13", visible=False)
lay["xaxis14"] = dict(ruler, anchor="y14", side="bottom", ticklen=15, ticklabelstandoff=-3)
lay["yaxis14"] = dict(domain=[fy(1543), fy(1511)], range=[0, 1], anchor="x14", visible=False)

for xs, ys, y0, y1, ytxt in (("x13", "y13", 1.0, 0.68, 0.27), ("x14", "y14", 0.0, 0.25, 0.75)):
    for tp in PHASE_TIMES:
        fig.add_trace(go.Scatter(x=[tp, tp], y=[y0, y1], xaxis=xs, yaxis=ys, mode="lines",
                                 line=dict(color=PS_BLUE, width=3), showlegend=False,
                                 hoverinfo="skip"))
    fig.add_trace(go.Scatter(x=PHASE_TIMES, y=[ytxt, ytxt], xaxis=xs, yaxis=ys, mode="text",
                             text=PHASE_LABELS, textfont=dict(size=21, color=PS_BLUE),
                             cliponaxis=False, showlegend=False, hoverinfo="skip"))

#----------------------------------------------------------------------
# spectra
#----------------------------------------------------------------------
minor_x = [m * 10.0 ** e for e in (-2, -1, 0, 1) for m in range(2, 10) if m * 10.0 ** e < 60]
minor_y = [m * 10.0 ** e for e in (-1, 0, 1, 2, 3) for m in range(2, 10) if m * 10.0 ** e < 3000]

for n, top, bot in ((11, 125.6, 725.6), (12, 911.7, 1511.7)):
    lay[f"xaxis{n}"] = dict(type="log", domain=[fx(SXL), fx(SXR)], range=[-2, np.log10(60)],
                            anchor=f"y{n}", showline=True, linecolor="black", linewidth=1.2,
                            mirror="allticks", tickmode="array", tickvals=SPEC_X_TICKS,
                            ticktext=SPEC_X_LABELS, ticks="inside", ticklen=9, tickcolor="black",
                            showgrid=True, gridcolor="black",
                            gridwidth=1, zeroline=False, ticklabelshift=20,
                            ticklabelstandoff=-3, tickfont=dict(size=24, color="#222"),
                            minor=dict(tickmode="array", tickvals=minor_x, showgrid=True,
                                       gridcolor=GRID, griddash="dot", gridwidth=1,
                                       ticks="inside", ticklen=9, tickcolor="black"))
    lay[f"yaxis{n}"] = dict(type="log", domain=[fy(bot), fy(top)], range=[-1, np.log10(3000)],
                            anchor=f"x{n}", showline=True, linecolor="black", linewidth=1.2,
                            mirror="allticks", tickmode="array", tickvals=SPEC_Y_TICKS,
                            ticktext=SPEC_Y_LABELS, ticks="inside", ticklen=9, tickcolor="black",
                            showgrid=True, gridcolor="black", gridwidth=1, zeroline=False,
                            tickfont=dict(size=17, color="#222"), ticklabelstandoff=8,
                            minor=dict(tickmode="array", tickvals=minor_y, ticks="inside",
                                       ticklen=9, tickcolor="black", showgrid=True,
                                       gridcolor=GRID, griddash="dot", gridwidth=1))

for dados, cor in ((FS_NS, RED), (FS_EW, GREEN), (FS_UD, BLUE)):
    t, a = zip(*dados)
    fig.add_trace(go.Scatter(x=t, y=a, xaxis="x11", yaxis="y11", mode="lines",
                             line=dict(color=cor, width=2), showlegend=False, hoverinfo="skip"))

for dados, cor, lw in ((RS_NS, RED, 2), (RS_EW, GREEN, 2), (RS_UD, BLUE, 2), (RS_HOR, "black", 4)):
    t, a = zip(*dados)
    fig.add_trace(go.Scatter(x=t, y=a, xaxis="x12", yaxis="y12", mode="lines",
                             line=dict(color=cor, width=lw), showlegend=False, hoverinfo="skip"))

# spectra texts
anno(1432, 102.6, "cm/sec(gal·sec)", 16, color="#222")
anno(1830, 90.7, "フーリエスペクトル", 32)
anno(2128, 95.5, "0.4Hz band smoothing", 22)
anno(2178.7, 752, "sec", 21, color="#222")
anno(1399, 889.7, "cm/sec", 16, color="#222")
anno(1827.5, 876, "相対速度応答スペクトル", 32)
anno(2209, 880, "h=5%", 22)
anno(2178.7, 1539, "sec", 21, color="#222")

# legend keys
for txt, tx, l0, l1, cor, lw, yy in (("NS", 1665.5, 1689, 1750.5, RED, 2.5, 776),
                                     ("EW", 1801, 1826, 1887, GREEN, 2.5, 776),
                                     ("UD", 1940, 1963, 2025, BLUE, 2.5, 776),
                                     ("NS", 1575.5, 1598, 1659, RED, 2.5, 1561.5),
                                     ("EW", 1732, 1758, 1818, GREEN, 2.5, 1561.5),
                                     ("UD", 1893, 1915.6, 1977, BLUE, 2.5, 1561.5),
                                     ("Horizon", 2032.7, 2075.8, 2137.4, "black", 4.5, 1561.5)):
    anno(tx, yy, txt, 16, color="#222")
    shapes.append(dict(type="line", xref="paper", yref="paper", x0=fx(l0), x1=fx(l1),
                       y0=fy(yy + 1), y1=fy(yy + 1), line=dict(color=cor, width=lw)))

# titles
anno(369, 41, TITLE_TIME, 30)
anno(950, 41, STATION, 32)

#======================================================================
fig.update_layout(width=W, height=H, autosize=False, margin=dict(l=0, r=0, t=0, b=0),
                  paper_bgcolor="white", plot_bgcolor="rgba(0,0,0,0)",
                  font=dict(family=FONT, color="black"), hovermode=False,
                  shapes=shapes, annotations=annos, showlegend=False, **lay)

fig.write_html("out.html", config={"displayModeBar": False},
               post_script="document.body.style.margin='0';document.body.style.overflow='hidden';")
